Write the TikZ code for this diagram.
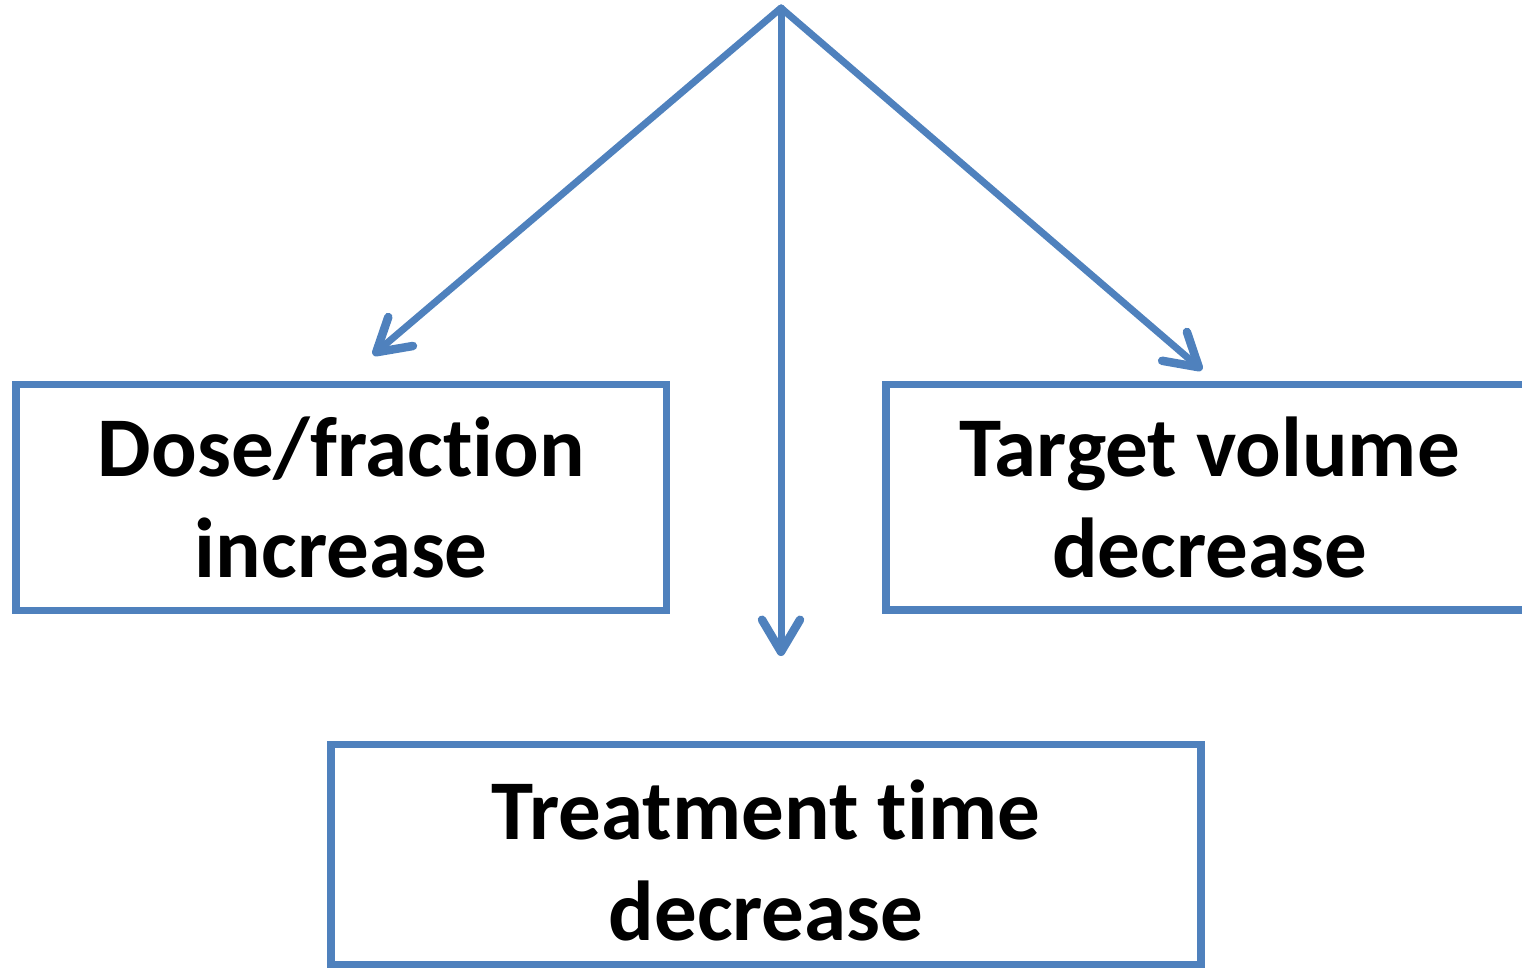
\documentclass[tikz,border=0pt]{standalone}
\usepackage{fontspec}
\setmainfont[Ligatures={NoCommon,NoRare}]{Carlito}
\usetikzlibrary{arrows.meta}
\definecolor{ofblue}{RGB}{79,129,189}
\begin{document}
\begin{tikzpicture}[x=1pt,y=-1pt,
  box/.style={draw=ofblue, line width=7.5pt, rectangle, inner sep=0pt},
  lbl/.style={font=\fontsize{85}{101}\selectfont\bfseries, align=center, anchor=base, inner sep=0pt},
  arr/.style={draw=ofblue, line width=7pt, line cap=round, -{Straight Barb[length=32pt,width=38pt,round,line width=1.5pt 1]}}]
\useasboundingbox (0,0) rectangle (1522,970);
\clip (0,0) rectangle (1522,970);
\node[box, minimum width=650.7pt, minimum height=226pt] (dose) at (341.35,497.5) {};
\node[box, minimum width=647pt, minimum height=225.5pt] (target) at (1209.5,497.25) {};
\node[box, minimum width=870pt, minimum height=220pt] (time) at (766,854.5) {};
\node[lbl] (dosetxt) at (341.35,577) {Dose/fraction\\increase};
\node[lbl] (targettxt) at (1209.5,577) {Target volume\\decrease};
\node[lbl] (timetxt) at (766,940) {Treatment time\\decrease};
\coordinate (apex) at (781,8);
\coordinate (tipL) at (373,355);
\coordinate (tipM) at (781,656);
\coordinate (tipR) at (1202,370);
\draw[arr] (apex) -- (tipL);
\draw[arr] (apex) -- (tipM);
\draw[arr] (apex) -- (tipR);
\end{tikzpicture}
\end{document}
